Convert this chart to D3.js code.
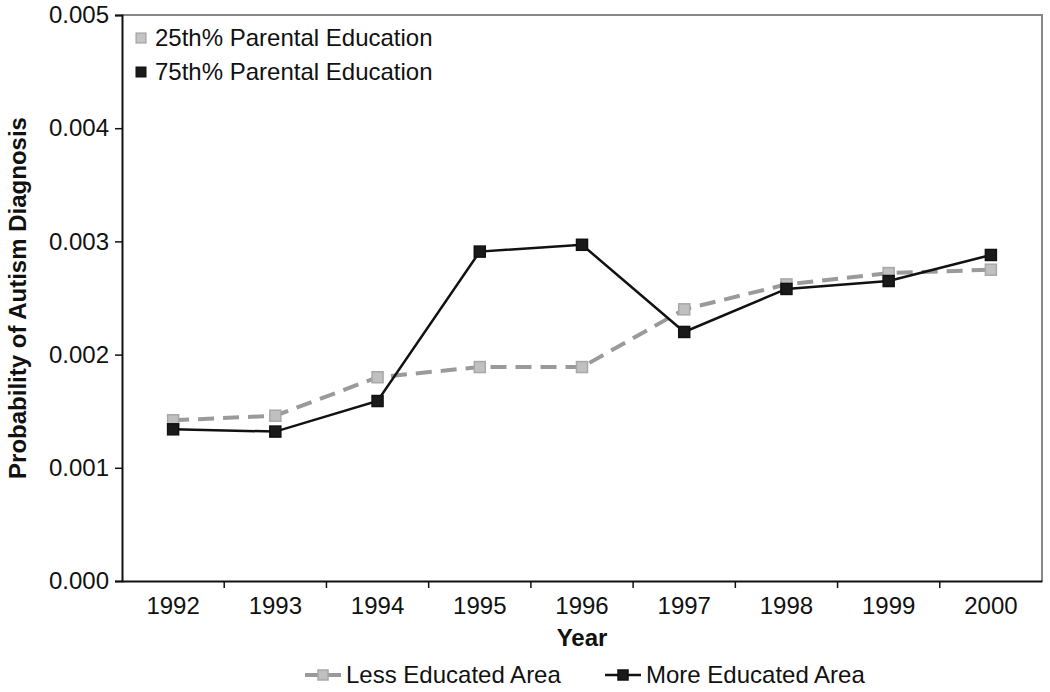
<!DOCTYPE html>
<html>
<head>
<meta charset="utf-8">
<script src="https://cdn.jsdelivr.net/npm/d3@7"></script>
<style>
  body { margin: 0; background: #fff; }
  svg text { font-family: "Liberation Sans", Arial, sans-serif; }
</style>
</head>
<body>
<svg width="1050" height="692"></svg>
<script>
var years = ['1992', '1993', '1994', '1995', '1996', '1997', '1998', '1999', '2000'];
var lessEducated = [0.00142, 0.00146, 0.00180, 0.00189, 0.00189, 0.00240, 0.00262, 0.00272, 0.00275];
var moreEducated = [0.00134, 0.00132, 0.00159, 0.00291, 0.00297, 0.00220, 0.00258, 0.00265, 0.00288];
var yTicks = [0, 0.001, 0.002, 0.003, 0.004, 0.005];

var svg = d3.select('svg');
var padding = {t: 15, r: 8, b: 111, l: 122};
var svgWidth = +svg.attr('width');
var svgHeight = +svg.attr('height');
var chartWidth = svgWidth - padding.l - padding.r;
var chartHeight = svgHeight - padding.t - padding.b;

var chartG = svg.append('g')
    .attr('transform', 'translate(' + [padding.l, padding.t] + ')');

var xScale = d3.scaleBand()
    .domain(years)
    .range([0, chartWidth]);

var yScale = d3.scaleLinear()
    .domain([0, 0.005])
    .range([chartHeight, 0]);

// top and right frame in grey
chartG.append('path')
    .attr('d', 'M0,0H' + chartWidth + 'V' + chartHeight)
    .attr('fill', 'none')
    .attr('stroke', '#888')
    .attr('stroke-width', 2);

// y axis
var yAxis = d3.axisLeft(yScale)
    .tickValues(yTicks)
    .tickFormat(d3.format('.3f'))
    .tickSize(7)
    .tickPadding(6);

var yG = chartG.append('g').call(yAxis);
yG.select('.domain').attr('stroke', '#111').attr('stroke-width', 2);
yG.selectAll('.tick line').attr('stroke', '#111').attr('stroke-width', 1.5);
yG.selectAll('.tick text').style('font-size', '24px').attr('fill', '#111');

// x axis: ticks between categories
var xAxis = d3.axisBottom(xScale).tickSize(0).tickPadding(16);
var xG = chartG.append('g')
    .attr('transform', 'translate(0,' + chartHeight + ')')
    .call(xAxis);
xG.select('.domain').attr('stroke', '#111').attr('stroke-width', 2);
xG.selectAll('.tick text').style('font-size', '24px').attr('fill', '#111');

xG.selectAll('.sep')
    .data(years.slice(1))
    .enter()
    .append('line')
    .attr('class', 'sep')
    .attr('x1', d => xScale(d))
    .attr('x2', d => xScale(d))
    .attr('y1', 0)
    .attr('y2', 7)
    .attr('stroke', '#111')
    .attr('stroke-width', 1.5);

// axis titles
svg.append('text')
    .attr('x', padding.l + chartWidth / 2)
    .attr('y', 646)
    .attr('text-anchor', 'middle')
    .style('font-size', '24px')
    .style('font-weight', 'bold')
    .attr('fill', '#111')
    .text('Year');

svg.append('text')
    .attr('transform', 'translate(26,' + (padding.t + chartHeight / 2) + ') rotate(-90)')
    .attr('text-anchor', 'middle')
    .style('font-size', '24px')
    .style('font-weight', 'bold')
    .attr('fill', '#111')
    .text('Probability of Autism Diagnosis');

var line = d3.line()
    .x((d, i) => xScale(years[i]) + xScale.bandwidth() / 2)
    .y(d => yScale(d));

var series = [
    {name: 'Less Educated Area', values: lessEducated, stroke: '#9a9a9a', width: 4, dash: '16,9', fill: '#c0c0c0', mstroke: '#a8a8a8'},
    {name: 'More Educated Area', values: moreEducated, stroke: '#111', width: 2.5, dash: null, fill: '#1a1a1a', mstroke: '#111'}
];

series.forEach(function(s) {
    chartG.append('path')
        .datum(s.values)
        .attr('d', line)
        .attr('fill', 'none')
        .attr('stroke', s.stroke)
        .attr('stroke-width', s.width)
        .attr('stroke-dasharray', s.dash);

    chartG.selectAll(null)
        .data(s.values)
        .enter()
        .append('rect')
        .attr('x', (d, i) => xScale(years[i]) + xScale.bandwidth() / 2 - 5.5)
        .attr('y', d => yScale(d) - 5.5)
        .attr('width', 11)
        .attr('height', 11)
        .attr('fill', s.fill)
        .attr('stroke', s.mstroke)
        .attr('stroke-width', 1.5);
});

// inner legend
var innerLegend = [
    {label: '25th% Parental Education', fill: '#c4c4c4', stroke: '#999'},
    {label: '75th% Parental Education', fill: '#1a1a1a', stroke: '#111'}
];
var lg = svg.append('g').attr('transform', 'translate(136,38)');
innerLegend.forEach(function(d, i) {
    lg.append('rect')
        .attr('x', 0)
        .attr('y', i * 34 - 5)
        .attr('width', 10)
        .attr('height', 10)
        .attr('fill', d.fill)
        .attr('stroke', d.stroke)
        .attr('stroke-width', 1);
    lg.append('text')
        .attr('x', 19)
        .attr('y', i * 34 + 8)
        .style('font-size', '24px')
        .attr('fill', '#111')
        .text(d.label);
});

// bottom legend
var bl = svg.append('g').attr('transform', 'translate(305,675)');
var offsets = [0, 300];
series.forEach(function(s, i) {
    var g = bl.append('g').attr('transform', 'translate(' + offsets[i] + ',0)');
    g.append('line')
        .attr('x1', 0).attr('x2', 36)
        .attr('y1', 0).attr('y2', 0)
        .attr('stroke', s.stroke)
        .attr('stroke-width', s.width);
    g.append('rect')
        .attr('x', 13).attr('y', -5)
        .attr('width', 10).attr('height', 10)
        .attr('fill', s.fill)
        .attr('stroke', s.mstroke)
        .attr('stroke-width', 1.5);
    g.append('text')
        .attr('x', 41)
        .attr('y', 8)
        .style('font-size', '24px')
        .attr('fill', '#111')
        .text(s.name);
});
</script>
</body>
</html>
